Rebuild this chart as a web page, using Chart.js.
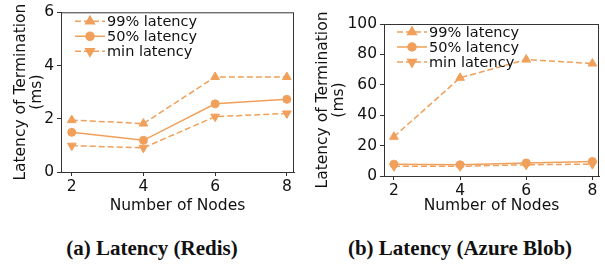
<!DOCTYPE html>
<html>
<head>
<meta charset="utf-8">
<script src="https://cdn.jsdelivr.net/npm/chart.js@4"></script>
<style>
  body { margin: 0; background: #fff; width: 605px; height: 266px; position: relative; overflow: hidden; }
  .box { position: absolute; top: 0; height: 215px; }
  .cap { position: absolute; top: 236px; font: bold 21px "Liberation Serif", serif; color: #111; white-space: nowrap; transform: translateX(-50%); }
</style>
</head>
<body>
<div class="box" style="left:0;width:300px"><canvas id="redis"></canvas></div>
<div class="box" style="left:300px;width:305px"><canvas id="azure"></canvas></div>
<div class="cap" style="left:152px">(a) Latency (Redis)</div>
<div class="cap" style="left:460px">(b) Latency (Azure Blob)</div>
<script>
const nodes = [2, 4, 6, 8];

const redisP99 = [1.95, 1.82, 3.57, 3.57];
const redisP50 = [1.49, 1.19, 2.56, 2.73];
const redisMin = [0.99, 0.91, 2.08, 2.2];

const azureP99 = [25.8, 64.6, 76.6, 74.0];
const azureP50 = [7.8, 7.4, 8.6, 9.6];
const azureMin = [6.4, 6.4, 7.4, 7.8];

const orange = "#F0A05A";
const font = "'DejaVu Sans', sans-serif";

// draws the box round the plot and the legend inside it
const framePlugin = {
    id: "frame",
    afterDatasetsDraw(chart, args, opts) {
        const { ctx, chartArea: a } = chart;
        ctx.save();
        ctx.strokeStyle = "#333";
        ctx.lineWidth = 1;
        ctx.strokeRect(a.left + 0.5, a.top + 0.5, a.right - a.left - 1, a.bottom - a.top);
        ctx.font = "14.5px " + font;
        ctx.textBaseline = "middle";
        chart.data.datasets.forEach((ds, i) => {
            const y = a.top + opts.rowTop + i * opts.rowGap;
            const x0 = a.left + opts.lineLeft;
            ctx.strokeStyle = ds.borderColor;
            ctx.lineWidth = 1.5;
            ctx.setLineDash(ds.borderDash || []);
            ctx.beginPath();
            ctx.moveTo(x0, y);
            ctx.lineTo(x0 + 30, y);
            ctx.stroke();
            ctx.setLineDash([]);
            ctx.fillStyle = ds.borderColor;
            Chart.helpers.drawPoint(ctx, {
                pointStyle: ds.pointStyle,
                rotation: ds.pointRotation || 0,
                radius: ds.pointRadius,
                borderWidth: 1,
            }, x0 + 15, y);
            ctx.fillStyle = "#111";
            ctx.fillText(ds.label, x0 + 32, y + 1);
        });
        ctx.restore();
    },
};

const makeLatencyChart = (id, p99, p50, pmin, yMax, step, pad, yWidth, xHeight, titlePad, legend) => {
    const toPoints = (vals) => vals.map((v, i) => ({ x: nodes[i], y: v }));
    const line = (label, vals, dashed, style, rot) => ({
        label,
        data: toPoints(vals),
        borderColor: orange,
        backgroundColor: orange,
        borderWidth: 1.5,
        borderDash: dashed ? [6, 3] : [],
        pointStyle: style,
        pointRotation: rot,
        pointRadius: style === "circle" ? 4 : 5,
        pointBorderWidth: 1,
        tension: 0,
    });
    const config = {
        type: "line",
        data: {
            datasets: [
                line("99% latency", p99, true, "triangle", 0),
                line("50% latency", p50, false, "circle", 0),
                line("min latency", pmin, true, "triangle", 180),
            ],
        },
        options: {
            animation: false,
            responsive: true,
            maintainAspectRatio: false,
            layout: { padding: pad },
            plugins: {
                legend: { display: false },
                tooltip: { enabled: false },
                frame: legend,
            },
            scales: {
                x: {
                    type: "linear",
                    min: 1.7,
                    max: 8.2,
                    afterBuildTicks: (s) => { s.ticks = nodes.map((v) => ({ value: v })); },
                    afterFit: (s) => { s.height = xHeight; },
                    grid: { display: true, drawOnChartArea: false, tickLength: 4, color: "#333" },
                    border: { color: "#333" },
                    ticks: { color: "#111", font: { family: font, size: 15.5 }, padding: 2 },
                    title: { display: true, text: "Number of Nodes", color: "#111", font: { family: font, size: 15.5 }, padding: { top: 0, bottom: 0 } },
                },
                y: {
                    min: 0,
                    max: yMax,
                    afterFit: (s) => { s.width = yWidth; },
                    grid: { display: true, drawOnChartArea: false, tickLength: 4, color: "#333" },
                    border: { color: "#333" },
                    ticks: { color: "#111", font: { family: font, size: 15.5 }, padding: 3, stepSize: step },
                    title: { display: true, text: ["Latency of Termination", "(ms)"], color: "#111", font: { family: font, size: 15.5, lineHeight: 1.05 }, padding: { top: titlePad, bottom: 0 } },
                },
            },
        },
        plugins: [framePlugin],
    };
    const ctx = document.getElementById(id).getContext("2d");
    new Chart(ctx, config);
};

makeLatencyChart("redis", redisP99, redisP50, redisMin, 6, 2,
    { top: 11, right: 4, left: 0, bottom: 0 }, 61, 43, 13,
    { rowTop: 9, rowGap: 15, lineLeft: 14 });
makeLatencyChart("azure", azureP99, azureP50, azureMin, 100, 20,
    { top: 24, right: 1, left: 0, bottom: 0 }, 84, 39, 15,
    { rowTop: 8, rowGap: 15, lineLeft: 13 });
</script>
</body>
</html>
